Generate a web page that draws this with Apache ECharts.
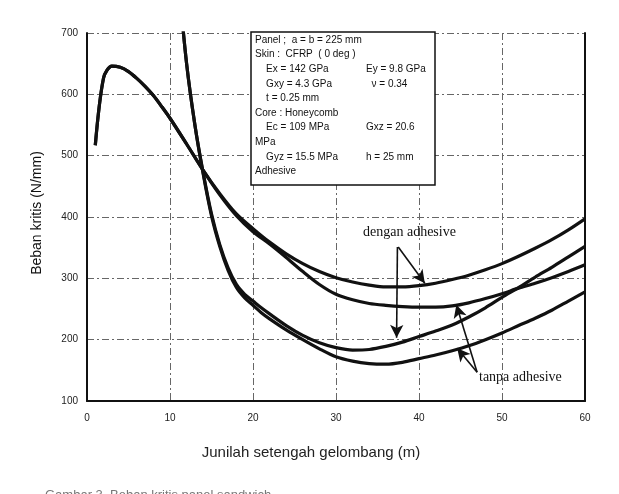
<!DOCTYPE html>
<html>
<head>
<meta charset="utf-8">
<script src="https://cdn.jsdelivr.net/npm/echarts@6/dist/echarts.min.js"></script>
<style>
  html, body { margin: 0; padding: 0; background: #fff; }
  #main { width: 619px; height: 494px; }
</style>
</head>
<body>
<div id="main"></div>
<script>
// m values (half-waves) for the curves that start at m = 1
const mUpper = [1, 2, 3, 4, 5, 6, 7, 8, 9, 10, 12, 14, 16, 18, 20, 22, 24, 26, 28, 30, 32, 34, 36, 38, 40, 42, 44, 46, 48, 50, 52, 54, 56, 58, 60]
const denganUpper = [517, 627, 646, 644, 637, 626, 613, 598, 580, 561, 519, 476, 438, 405, 381, 359, 340, 324, 311, 301, 294, 289, 286, 286, 288, 292, 298, 305, 314, 324, 336, 349, 363, 379, 397]
const tanpaUpper = [517, 627, 646, 644, 637, 626, 613, 598, 580, 561, 519, 476, 436, 402, 376, 356, 334, 311, 290, 274, 265, 259, 256, 254, 253, 253, 255, 260, 267, 275, 284, 292, 301, 311, 322]

// m values for the steep curves
const mLower = [11, 12, 13, 14, 15, 16, 17, 18, 19, 20, 21, 22, 24, 26, 28, 30, 32, 34, 36, 38, 40, 42, 44, 46, 48, 50, 52, 54, 56, 58, 60]
const denganLower = [790, 650, 550, 472, 405, 355, 317, 290, 274, 263, 252, 242, 223, 207, 195, 187, 183, 184, 189, 196, 205, 214, 224, 237, 252, 269, 285, 302, 318, 335, 352]
const tanpaLower = [790, 650, 550, 470, 402, 352, 313, 285, 268, 256, 244, 234, 216, 200, 185, 172, 165, 161, 160, 163, 169, 175, 182, 190, 200, 211, 223, 235, 248, 263, 278]

const xTicks = [0, 10, 20, 30, 40, 50, 60]
const yTicks = [100, 200, 300, 400, 500, 600, 700]

const infoLines = [
  ["Panel ;  a = b = 225 mm", ""],
  ["Skin :  CFRP  ( 0 deg )", ""],
  ["    Ex = 142 GPa", "Ey = 9.8 GPa"],
  ["    Gxy = 4.3 GPa", "  \u03bd = 0.34"],
  ["    t = 0.25 mm", ""],
  ["Core : Honeycomb", ""],
  ["    Ec = 109 MPa", "Gxz = 20.6"],
  ["MPa", ""],
  ["    Gyz = 15.5 MPa", "h = 25 mm"],
  ["Adhesive", ""]
]

const pairs = (xs, ys) => xs.map((x, i) => [x, ys[i]])

const renderChart = () => {
  const chartDom = document.getElementById("main")
  const myChart = echarts.init(chartDom)
  const ink = "#111"
  const gridLine = {
    show: true,
    lineStyle: { color: "#666", width: 1, type: [7, 3, 2, 3] }
  }
  const lineSeries = (name, data) => ({
    name: name,
    type: "line",
    data: data,
    smooth: 0.3,
    symbol: "none",
    lineStyle: { color: ink, width: 3.2 },
    z: 3
  })

  const infoText = []
  infoLines.forEach((ln, i) => {
    infoText.push({
      type: "text", z: 95,
      x: 255, y: 35 + i * 14.6,
      style: { text: ln[0], font: "10px 'Liberation Sans'", fill: ink }
    })
    if (ln[1]) {
      infoText.push({
        type: "text", z: 95,
        x: 366, y: 35 + i * 14.6,
        style: { text: ln[1], font: "10px 'Liberation Sans'", fill: ink }
      })
    }
  })

  const arrows = [
    [[37.5, 351], [40.7, 292]],
    [[37.4, 351], [37.3, 203]],
    [[47.0, 147], [44.5, 257]],
    [[47.0, 147], [44.6, 186]]
  ]

  const option = {
    animation: false,
    grid: { left: 87, right: 34, top: 33, bottom: 93 },
    xAxis: {
      type: "value",
      min: xTicks[0], max: xTicks[xTicks.length - 1], interval: 10,
      axisLine: { show: true, onZero: false, lineStyle: { color: ink, width: 2 } },
      axisTick: { show: false },
      axisLabel: { color: "#222", fontSize: 10, margin: 12, fontFamily: "Liberation Sans" },
      splitLine: gridLine
    },
    yAxis: [
      {
        type: "value",
        min: yTicks[0], max: yTicks[yTicks.length - 1], interval: 100,
        axisLine: { show: true, lineStyle: { color: ink, width: 2 } },
        axisTick: { show: false },
        axisLabel: { color: "#222", fontSize: 10, margin: 9, fontFamily: "Liberation Sans" },
        splitLine: gridLine
      },
      {
        type: "value", position: "right",
        min: yTicks[0], max: yTicks[yTicks.length - 1], interval: 100,
        axisLine: { show: true, lineStyle: { color: ink, width: 2 } },
        axisTick: { show: false },
        axisLabel: { show: false },
        splitLine: { show: false }
      }
    ],
    series: [
      Object.assign(lineSeries("dengan adhesive (1)", pairs(mUpper, denganUpper)), {
        markLine: {
          silent: true,
          symbol: ["none", "arrow"],
          symbolSize: [10, 13],
          label: { show: false },
          lineStyle: { color: ink, width: 1.6, type: "solid" },
          data: arrows.map(a => [{ coord: a[0] }, { coord: a[1] }])
        }
      }),
      lineSeries("tanpa adhesive (1)", pairs(mUpper, tanpaUpper)),
      lineSeries("dengan adhesive (2)", pairs(mLower, denganLower)),
      lineSeries("tanpa adhesive (2)", pairs(mLower, tanpaLower))
    ],
    graphic: [
      {
        type: "rect", z: 90,
        shape: { x: 251, y: 32, width: 184, height: 153 },
        style: { fill: "#fff", stroke: ink, lineWidth: 1.5 }
      },
      ...infoText,
      {
        type: "text", z: 92, left: 363, top: 225,
        style: { text: "dengan adhesive", font: "14px 'Liberation Serif'", fill: ink }
      },
      {
        type: "text", z: 92, left: 479, top: 370,
        style: { text: "tanpa adhesive", font: "14px 'Liberation Serif'", fill: ink }
      },
      {
        type: "text", z: 92, x: 37, y: 213, rotation: Math.PI / 2,
        style: {
          text: "Beban kritis (N/mm)", font: "14px 'Liberation Sans'", fill: ink,
          align: "center", verticalAlign: "middle"
        }
      },
      {
        type: "text", z: 92, x: 311, y: 453,
        style: {
          text: "Junilah setengah gelombang (m)", font: "15px 'Liberation Sans'", fill: "#222",
          align: "center", verticalAlign: "middle"
        }
      },
      {
        type: "text", z: 92, left: 45, top: 489,
        style: { text: "Gambar 3. Beban kritis panel sandwich", font: "13px 'Liberation Sans'", fill: "#777" }
      }
    ]
  }

  option && myChart.setOption(option)
}
renderChart()
</script>
</body>
</html>
